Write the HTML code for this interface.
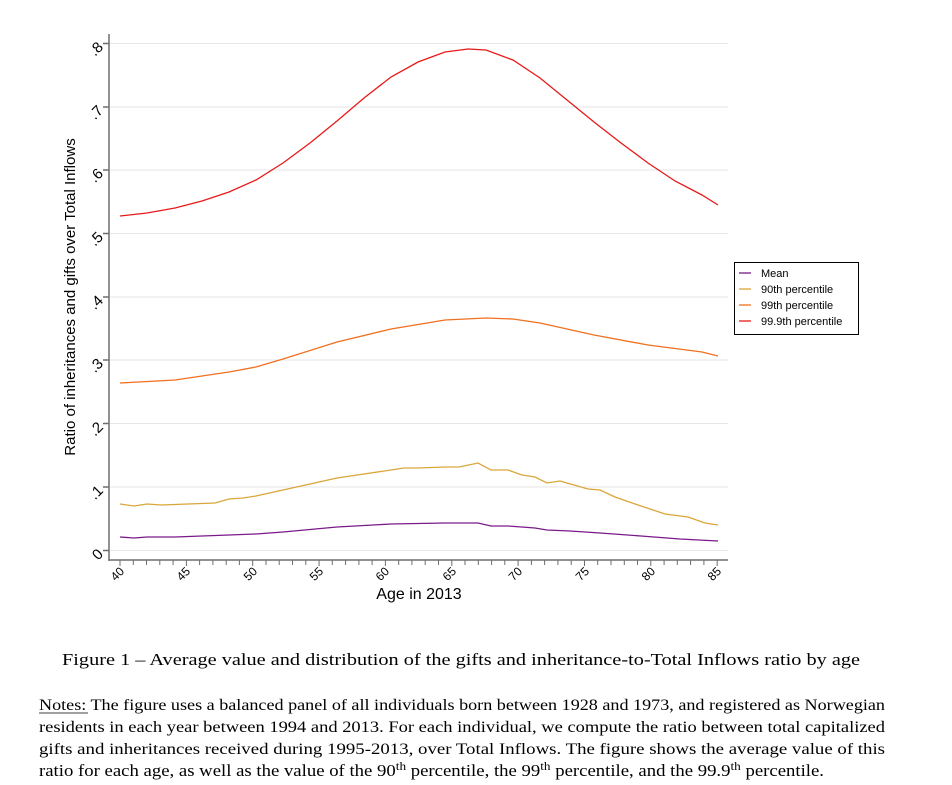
<!DOCTYPE html>
<html><head><meta charset="utf-8"><style>html,body{margin:0;padding:0;background:#fff;}svg{display:block}</style></head>
<body>
<svg width="952" height="785" viewBox="0 0 952 785" xmlns="http://www.w3.org/2000/svg">
<rect width="952" height="785" fill="#fff"/>
<g stroke="#e6e6e6" stroke-width="1">
<line x1="110" x2="728" y1="43.5" y2="43.5"/><line x1="110" x2="728" y1="107" y2="107"/><line x1="110" x2="728" y1="170" y2="170"/><line x1="110" x2="728" y1="233.5" y2="233.5"/><line x1="110" x2="728" y1="297" y2="297"/><line x1="110" x2="728" y1="360" y2="360"/><line x1="110" x2="728" y1="423.5" y2="423.5"/><line x1="110" x2="728" y1="487" y2="487"/><line x1="110" x2="728" y1="550.5" y2="550.5"/>
</g>
<g stroke="#6e6e6e" stroke-width="1.5" fill="none">
<line x1="109" x2="109" y1="34" y2="561"/>
<line x1="109" x2="728" y1="560" y2="560"/>
<path d="M103 43.5h6M103 107h6M103 170h6M103 233.5h6M103 297h6M103 360h6M103 423.5h6M103 487h6M103 550.5h6"/>
</g>
<g stroke="#6e6e6e" stroke-width="1">
<path d="M120 560v6M133.3 560v5M146.5 560v5M159.8 560v5M173.1 560v5M186.4 560v6M199.6 560v5M212.9 560v5M226.2 560v5M239.4 560v5M252.7 560v6M266 560v5M279.2 560v5M292.5 560v5M305.8 560v5M319.1 560v6M332.3 560v5M345.6 560v5M358.9 560v5M372.1 560v5M385.4 560v6M398.7 560v5M411.9 560v5M425.2 560v5M438.5 560v5M451.8 560v6M465 560v5M478.3 560v5M491.6 560v5M504.8 560v5M518.1 560v6M531.4 560v5M544.6 560v5M557.9 560v5M571.2 560v5M584.5 560v6M597.7 560v5M611 560v5M624.3 560v5M637.5 560v5M650.8 560v6M664.1 560v5M677.3 560v5M690.6 560v5M703.9 560v5M717.2 560v6"/>
</g>
<g font-family="Liberation Sans, sans-serif" font-size="15" fill="#000">
<g text-anchor="end">
<text transform="translate(104,48) rotate(-45)">.8</text>
<text transform="translate(104,111.5) rotate(-45)">.7</text>
<text transform="translate(104,174.5) rotate(-45)">.6</text>
<text transform="translate(104,238) rotate(-45)">.5</text>
<text transform="translate(104,301.5) rotate(-45)">.4</text>
<text transform="translate(104,364.5) rotate(-45)">.3</text>
<text transform="translate(104,428) rotate(-45)">.2</text>
<text transform="translate(104,491.5) rotate(-45)">.1</text>
<text transform="translate(104,555) rotate(-45)">0</text>
</g>
<g font-size="12">
<text transform="translate(125,572) rotate(-45)" text-anchor="end">40</text>
<text transform="translate(191,572) rotate(-45)" text-anchor="end">45</text>
<text transform="translate(258,572) rotate(-45)" text-anchor="end">50</text>
<text transform="translate(324,572) rotate(-45)" text-anchor="end">55</text>
<text transform="translate(390,572) rotate(-45)" text-anchor="end">60</text>
<text transform="translate(457,572) rotate(-45)" text-anchor="end">65</text>
<text transform="translate(523,572) rotate(-45)" text-anchor="end">70</text>
<text transform="translate(590,572) rotate(-45)" text-anchor="end">75</text>
<text transform="translate(656,572) rotate(-45)" text-anchor="end">80</text>
<text transform="translate(722,572) rotate(-45)" text-anchor="end">85</text>
</g>
<text x="419" y="599" text-anchor="middle" font-size="16">Age in 2013</text>
<text transform="translate(75,297) rotate(-90)" text-anchor="middle" font-size="15">Ratio of inheritances and gifts over Total Inflows</text>
</g>
<g fill="none" stroke-width="1.3">
<polyline stroke="#e8191a" points="120,216 147,213 175,208 202,201 229,192 256,180 283,163 310,143 337,121 364,98 391,77 418,62 445,52 468,49 486,50 513,60 540,78 567,100 594,122 621,143 648,163 675,181 702,195 718,205"/>
<polyline stroke="#f07020" points="120,383 175,380 229,372 256,367 283,359 337,342 391,329 445,320 486,318 513,319 540,323 594,335 648,345 702,352 718,356"/>
<polyline stroke="#daa63a" points="120,504 134,506 147,504 161,505 188,504 215,503 229,499 243,498 256,496 283,490 310,484 337,478 364,474 391,470 404,468 418,468 445,467 459,467 478,463 491,470 508,470 522,475 535,477 547,483 560,481 574,485 588,489 600,490 615,497 641,506 665,514 688,517 705,523 718,525"/>
<polyline stroke="#7a1a8a" points="120,537 134,538 147,537 175,537 229,535 256,534 283,532 337,527 391,524 445,523 478,523 491,526 508,526 535,528 547,530 570,531 600,533 641,536 680,539 718,541"/>
</g>
<rect x="734.5" y="262.5" width="124" height="72" fill="#fff" stroke="#000" stroke-width="1"/>
<g stroke-width="1.3">
<line x1="739" x2="751" y1="273" y2="273" stroke="#7a1a8a"/>
<line x1="739" x2="751" y1="289" y2="289" stroke="#daa63a"/>
<line x1="739" x2="751" y1="305" y2="305" stroke="#f07020"/>
<line x1="739" x2="751" y1="321" y2="321" stroke="#e8191a"/>
</g>
<g font-family="Liberation Sans, sans-serif" font-size="11" fill="#000">
<text x="761" y="277">Mean</text>
<text x="761" y="293">90th percentile</text>
<text x="761" y="309">99th percentile</text>
<text x="761" y="325">99.9th percentile</text>
</g>
<g font-family="Liberation Serif, serif" font-size="17" fill="#000">
<text x="62" y="665" textLength="798" lengthAdjust="spacingAndGlyphs">Figure 1 – Average value and distribution of the gifts and inheritance-to-Total Inflows ratio by age</text>
</g>
<g font-family="Liberation Serif, serif" font-size="16" fill="#000">
<text x="39" y="710" textLength="846" lengthAdjust="spacingAndGlyphs">Notes: The figure uses a balanced panel of all individuals born between 1928 and 1973, and registered as Norwegian</text>
<line x1="39" x2="88" y1="713" y2="713" stroke="#000" stroke-width="0.8"/>
<text x="39" y="732" textLength="846" lengthAdjust="spacingAndGlyphs">residents in each year between 1994 and 2013. For each individual, we compute the ratio between total capitalized</text>
<text x="39" y="754" textLength="846" lengthAdjust="spacingAndGlyphs">gifts and inheritances received during 1995-2013, over Total Inflows. The figure shows the average value of this</text>
<text x="39" y="776" font-size="17" textLength="785" lengthAdjust="spacingAndGlyphs">ratio for each age, as well as the value of the 90<tspan font-size="12" dy="-6">th</tspan><tspan dy="6"> percentile, the 99</tspan><tspan font-size="12" dy="-6">th</tspan><tspan dy="6"> percentile, and the 99.9</tspan><tspan font-size="12" dy="-6">th</tspan><tspan dy="6"> percentile.</tspan></text>
</g>
</svg>
</body></html>
